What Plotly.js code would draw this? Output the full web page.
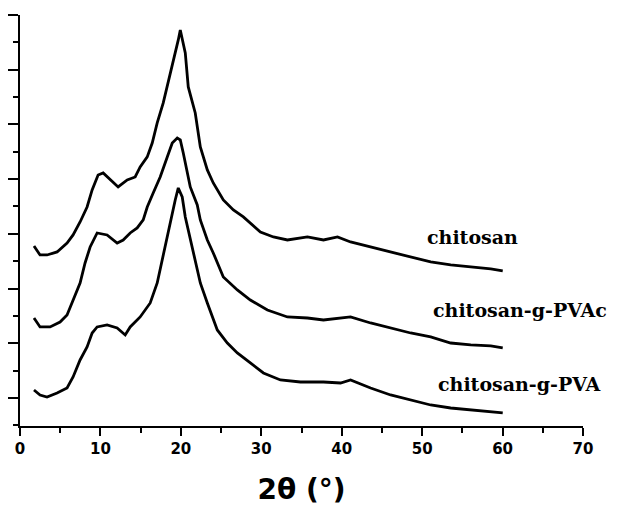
<!DOCTYPE html>
<html>
<head>
<meta charset="utf-8">
<script src="https://cdn.plot.ly/plotly-3.0.1.min.js"></script>
<style>html,body{margin:0;padding:0;background:#fff;}#chart{width:620px;height:507px;}</style>
</head>
<body>
<div id="chart"></div>
<script>
// 2θ (degrees) and intensity (a.u.)
const chitosanX = [1.74,2.49,3.36,4.61,5.85,6.60,7.47,8.34,8.97,9.71,10.34,11.21,12.20,13.33,14.32,14.94,15.82,16.44,17.06,17.81,18.43,19.05,19.68,19.93,20.55,20.92,21.79,22.42,23.29,24.03,25.28,26.53,27.77,29.89,31.51,33.25,35.74,37.73,39.48,41.10,43.59,46.08,48.57,51.06,53.55,56.04,58.53,60.02];
const chitosanY = [3779,3614,3614,3669,3833,3980,4217,4491,4802,5076,5113,4985,4857,4985,5040,5223,5406,5661,6027,6393,6758,7179,7544,7727,7307,6685,6210,5588,5168,4930,4619,4437,4309,4034,3943,3888,3943,3888,3943,3852,3760,3669,3577,3486,3431,3395,3358,3322];

const pvacX = [1.74,2.49,3.74,4.98,5.85,6.60,7.47,8.09,8.72,9.59,10.83,12.08,12.83,13.70,14.57,15.32,15.82,16.56,17.43,18.31,18.93,19.55,19.93,20.30,20.80,21.17,22.04,22.42,23.29,24.03,25.28,27.02,28.64,30.76,33.25,35.74,37.73,39.85,41.10,43.59,46.08,48.57,51.06,53.55,56.04,58.53,60.02];
const pvacY = [2462,2298,2298,2389,2517,2791,3102,3468,3760,4016,3980,3833,3888,4016,4108,4254,4491,4747,5040,5406,5661,5753,5716,5479,5113,4857,4528,4254,3888,3651,3212,2974,2791,2609,2481,2462,2426,2462,2481,2371,2280,2188,2115,2005,1969,1951,1914];

const pvaX = [1.74,2.49,3.36,4.61,5.85,6.60,7.47,8.34,8.97,9.59,10.83,12.08,13.08,13.70,14.94,16.19,17.06,17.68,18.31,18.68,19.30,19.68,20.17,20.55,21.17,21.79,22.42,23.29,24.53,25.78,27.02,28.64,30.26,32.38,34.87,37.73,39.85,41.10,43.59,46.08,48.57,51.06,53.55,56.04,58.53,60.02];
const pvaY = [1146,1055,1018,1091,1183,1384,1695,1932,2188,2298,2334,2280,2152,2298,2481,2737,3102,3523,3943,4254,4619,4839,4674,4309,3888,3523,3102,2737,2243,2005,1823,1640,1457,1329,1292,1292,1274,1329,1183,1055,963,872,817,781,744,726];

const seriesNames = ["chitosan", "chitosan-g-PVAc", "chitosan-g-PVA"];
const labelX = [50.4, 51.1, 51.7];
const labelY = [3943, 2609, 1256];
const xTickVals = [0,10,20,30,40,50,60,70];

const lineStyle = {color: "#000", width: 2.8};
const data = [
  {x: chitosanX, y: chitosanY, name: seriesNames[0]},
  {x: pvacX, y: pvacY, name: seriesNames[1]},
  {x: pvaX, y: pvaY, name: seriesNames[2]}
].map(t => Object.assign(t, {type: "scatter", mode: "lines", line: lineStyle, hoverinfo: "skip"}));

const annotations = seriesNames.map((n, i) => ({
  x: labelX[i], y: labelY[i], xref: "x", yref: "y",
  text: "<b>" + n + "</b>", showarrow: false,
  xanchor: "left", yanchor: "middle",
  font: {family: "DejaVu Serif", size: 19, color: "#000", weight: "bold"}
}));

const layout = {
  width: 620, height: 507,
  margin: {l: 20, r: 37, t: 15, b: 81},
  paper_bgcolor: "#fff", plot_bgcolor: "#fff",
  showlegend: false,
  xaxis: {
    range: [0, 70], tickvals: xTickVals, ticktext: xTickVals.map(String),
    showgrid: false, zeroline: false, showline: true, linecolor: "#000", linewidth: 2,
    ticks: "outside", ticklen: 8, tickwidth: 2, tickcolor: "#000",
    minor: {dtick: 5, ticks: "outside", ticklen: 5, tickwidth: 2, tickcolor: "#000", showgrid: false},
    tickfont: {family: "DejaVu Sans", size: 15, color: "#000", weight: "bold"},
    title: {text: "<b>2θ (°)</b>", font: {family: "DejaVu Sans", size: 28, color: "#000", weight: "bold"}, standoff: 22}
  },
  yaxis: {
    range: [488, 8000], tick0: 1000, dtick: 1000,
    showticklabels: false,
    showgrid: false, zeroline: false, showline: true, linecolor: "#000", linewidth: 2,
    ticks: "outside", ticklen: 10, tickwidth: 2, tickcolor: "#000",
    minor: {dtick: 500, tick0: 500, ticks: "outside", ticklen: 5, tickwidth: 2, tickcolor: "#000", showgrid: false}
  },
  annotations: annotations
};

Plotly.newPlot("chart", data, layout, {displayModeBar: false, staticPlot: true});
</script>
</body>
</html>
